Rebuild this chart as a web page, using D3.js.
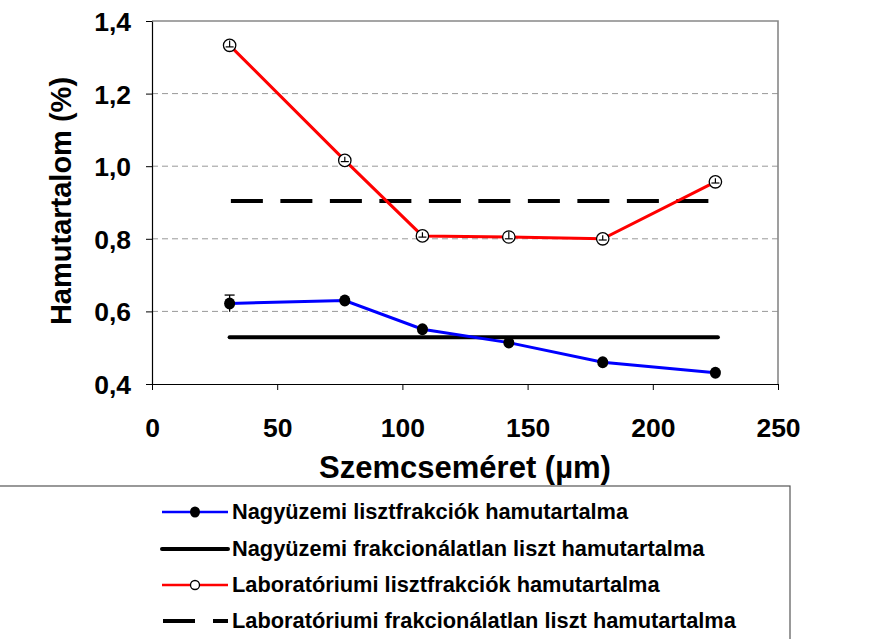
<!DOCTYPE html>
<html><head><meta charset="utf-8">
<script src="https://cdn.jsdelivr.net/npm/d3@7"></script>
<style>body{margin:0;background:#fff}svg{display:block}text{font-family:"Liberation Sans",Arial,sans-serif;font-weight:bold}</style>
</head><body><svg id="c" width="874" height="639"></svg>
<script>
const sizes = [31, 77, 108, 142.5, 180, 225];
const industrial = [0.622, 0.630, 0.551, 0.514, 0.460, 0.431];
const industrialErr = [0.023, 0.004, 0.004, 0.012, 0.004, 0.004];
const laboratory = [1.333, 1.016, 0.808, 0.805, 0.800, 0.957];
const laboratoryErr = [0.013, 0.01, 0.01, 0.015, 0.01, 0.01];
const industrialWhole = 0.529;
const laboratoryWhole = 0.904;
const wholeRange = [31, 226];
const labWholeRange = [31.5, 223];
const xTicks = [0, 50, 100, 150, 200, 250];
const yTicks = [0.4, 0.6, 0.8, 1.0, 1.2, 1.4];
const legendLabels = ["Nagyüzemi lisztfrakciók hamutartalma","Nagyüzemi frakcionálatlan liszt hamutartalma","Laboratóriumi lisztfrakciók hamutartalma","Laboratóriumi frakcionálatlan liszt hamutartalma"];

const svg = d3.select("#c");
const L=152, R=778, T=21, B=384;
const x = d3.scaleLinear().domain([0,250]).range([L,R]);
const y = d3.scaleLinear().domain([0.4,1.4]).range([B,T]);

// gridlines
svg.append("g").selectAll("line").data(yTicks.filter(v=>v>0.41&&v<1.39)).join("line")
  .attr("x1",L).attr("x2",R).attr("y1",d=>y(d)).attr("y2",d=>y(d))
  .attr("stroke","#999").attr("stroke-width",1).attr("stroke-dasharray","6,4");
// border top/right
svg.append("path").attr("d",`M${L},${T}H${R}V${B}`).attr("fill","none").attr("stroke","#888").attr("stroke-width",1.6);

const fmt = d => d3.format(".1f")(d).replace(".",",");
const gx = svg.append("g").attr("transform",`translate(0,${B})`)
  .call(d3.axisBottom(x).tickValues(xTicks).tickSize(6).tickSizeOuter(0).tickFormat(d3.format("d")));
const gy = svg.append("g").attr("transform",`translate(${L},0)`)
  .call(d3.axisLeft(y).tickValues(yTicks).tickSize(6).tickSizeOuter(0).tickFormat(fmt));
[gx,gy].forEach(g=>{g.attr("font-size",null).attr("font-family",null);
  g.select(".domain").attr("stroke","#000").attr("stroke-width",1.2);
  g.selectAll(".tick line").attr("stroke","#000");
  g.selectAll("text").attr("fill","#000").style("font-size","26.5px").style("font-family",'"Liberation Sans",Arial,sans-serif').style("font-weight","bold");});
gx.selectAll("text").attr("y",53).attr("dy",null);
gy.selectAll("text").attr("x",-21).attr("dy","0.36em");

svg.append("text").attr("x",465).attr("y",478).attr("text-anchor","middle").style("font-size","31px").text("Szemcseméret (µm)");
svg.append("text").attr("transform","translate(71,201) rotate(-90)").attr("text-anchor","middle").style("font-size","29px").text("Hamutartalom (%)");

// whole-flour lines
svg.append("line").attr("x1",x(wholeRange[0])).attr("x2",x(wholeRange[1])).attr("y1",y(industrialWhole)).attr("y2",y(industrialWhole))
  .attr("stroke","#000").attr("stroke-width",4).attr("stroke-linecap","round");
svg.append("line").attr("x1",x(labWholeRange[0])).attr("x2",x(labWholeRange[1])).attr("y1",y(laboratoryWhole)).attr("y2",y(laboratoryWhole))
  .attr("stroke","#000").attr("stroke-width",4).attr("stroke-dasharray","32,17.5");

const line = d3.line().x(d=>x(d[0])).y(d=>y(d[1]));
function series(vals, errs, color, filled){
  const pts = sizes.map((s,i)=>[s,vals[i],errs[i]]);
  svg.append("path").attr("d",line(pts)).attr("fill","none").attr("stroke",color).attr("stroke-width",3);
  const g = svg.append("g");
  pts.forEach(p=>{
    const cx=x(p[0]), cy=y(p[1]);
    if(filled){
      g.append("ellipse").attr("cx",cx).attr("cy",cy).attr("rx",5.5).attr("ry",6).attr("fill","#000");
      const e=g.append("g").attr("stroke","#000").attr("stroke-width",1.3);
      e.append("line").attr("x1",cx).attr("x2",cx).attr("y1",y(p[1]+p[2])).attr("y2",y(p[1]-p[2]));
      e.append("line").attr("x1",cx-5).attr("x2",cx+5).attr("y1",y(p[1]+p[2])).attr("y2",y(p[1]+p[2]));
    } else {
      g.append("circle").attr("cx",cx).attr("cy",cy).attr("r",6.2).attr("fill","#fff").attr("stroke","#000").attr("stroke-width",1.3);
      const e=g.append("g").attr("stroke","#000").attr("stroke-width",1.2);
      e.append("line").attr("x1",cx).attr("x2",cx).attr("y1",y(p[1]+p[2])).attr("y2",y(p[1]-p[2]/3));
      e.append("line").attr("x1",cx-4).attr("x2",cx+4).attr("y1",y(p[1]-p[2]/3)).attr("y2",y(p[1]-p[2]/3));
    }
  });
}
series(industrial, industrialErr, "#0000ff", true);
series(laboratory, laboratoryErr, "#ff0000", false);

// legend
svg.append("rect").attr("x",-2).attr("y",486).attr("width",792).attr("height",160).attr("fill","none").attr("stroke","#555").attr("stroke-width",1.2);
const rowsY=[512,549,585,621];
const lx1=162, lx2=228;
legendLabels.forEach((t,i)=>{
  svg.append("text").attr("x",232).attr("y",rowsY[i]+7).style("font-size","21.8px").text(t);
});
svg.append("line").attr("x1",lx1).attr("x2",lx2).attr("y1",rowsY[0]).attr("y2",rowsY[0]).attr("stroke","#0000ff").attr("stroke-width",2.5);
svg.append("ellipse").attr("cx",195).attr("cy",rowsY[0]).attr("rx",5).attr("ry",5.5).attr("fill","#000");
svg.append("line").attr("x1",lx1).attr("x2",lx2).attr("y1",rowsY[1]).attr("y2",rowsY[1]).attr("stroke","#000").attr("stroke-width",4).attr("stroke-linecap","round");
svg.append("line").attr("x1",lx1).attr("x2",lx2).attr("y1",rowsY[2]).attr("y2",rowsY[2]).attr("stroke","#ff0000").attr("stroke-width",2.5);
svg.append("circle").attr("cx",195).attr("cy",rowsY[2]).attr("r",4.5).attr("fill","#fff").attr("stroke","#000").attr("stroke-width",1.3);
svg.append("line").attr("x1",163).attr("x2",228).attr("y1",rowsY[3]).attr("y2",rowsY[3]).attr("stroke","#000").attr("stroke-width",4).attr("stroke-dasharray","32,18");
</script></body></html>
